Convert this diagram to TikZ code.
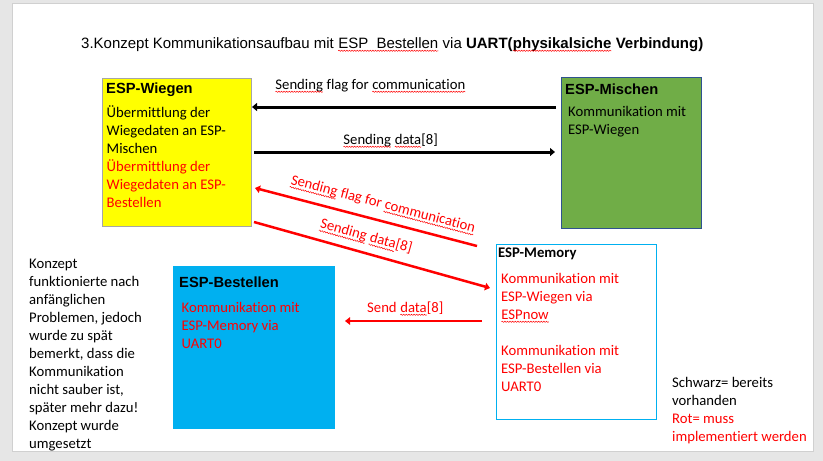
\documentclass[tikz,border=0pt]{standalone}
\usepackage{fontspec}
\setmainfont{Carlito}[Ligatures={NoCommon}]
\newfontfamily\arialf{Liberation Sans}
\usetikzlibrary{arrows.meta,decorations.pathmorphing}
\definecolor{slidegray}{HTML}{E6E6E6}
\definecolor{slideedge}{HTML}{D0D0D0}
\definecolor{wiegenfill}{HTML}{FFFF00}
\definecolor{wiegenedge}{HTML}{A6A6A6}
\definecolor{mischfill}{HTML}{70AD47}
\definecolor{mischedge}{HTML}{2F528F}
\definecolor{espblue}{HTML}{00B0F0}
\definecolor{pptred}{HTML}{FF0000}
\newcommand\sq[1]{\tikz[baseline=(w.base)]{\node[inner sep=0pt, outer sep=0pt] (w) {#1};
  \draw[pptred, line width=0.5pt, decorate, decoration={snake, amplitude=0.6pt, segment length=2.6pt}]
    ([yshift=-2.8pt]w.base west) -- ([yshift=-2.8pt]w.base east);}}
\begin{document}
\begin{tikzpicture}[x=1pt,y=-1pt,
  bx/.style={inner sep=0pt, outer sep=0pt, anchor=north west},
  tx/.style={inner sep=0pt, anchor=base west, font=\fontsize{14.7}{18}\selectfont},
  hd/.style={inner sep=0pt, anchor=base west, font=\arialf\bfseries\fontsize{14.7}{18}\selectfont},
  rtx/.style={inner sep=0pt, text=pptred, font=\fontsize{14.7}{18}\selectfont},
  blk/.style={line width=3pt, -{Triangle[length=5pt,width=8pt]}},
  rdarr/.style={pptred, line width=2.5pt, -{Triangle[length=5pt,width=7.5pt]}}]
\useasboundingbox (0,0) rectangle (823,461);
\fill[slidegray] (0,0) rectangle (823,461);
\filldraw[fill=white, draw=slideedge, line width=1pt] (12.5,3.5) rectangle (813,451);

% title
\node[tx, font=\arialf\fontsize{15}{18}\selectfont] (title) at (81,48)
  {3.Konzept Kommunikationsaufbau mit \sq{ESP\ \ Bestellen} via \textbf{UART(\sq{physikalsiche} Verbindung)}};

% boxes
\node[bx, fill=wiegenfill, draw=wiegenedge, line width=1pt, minimum width=149pt, minimum height=148pt] (wiegen) at (102,78) {};
\node[bx, fill=mischfill, draw=mischedge, line width=1pt, minimum width=140pt, minimum height=151pt] (mischen) at (561,77) {};
\node[bx, fill=white, draw=espblue, line width=1pt, minimum width=160pt, minimum height=175pt] (memory) at (496,244) {};
\node[bx, fill=espblue, minimum width=162pt, minimum height=163pt] (bestellen) at (173,266) {};

% box texts
\node[hd] (wiegenh) at (106,93) {ESP-Wiegen};
\node[tx] (wiegent) at (106.5,117.5) {\parbox[t]{145pt}{\raggedright
  Übermittlung der\\Wiegedaten an ESP-\\Mischen\\
  \textcolor{pptred}{Übermittlung der}\\\textcolor{pptred}{Wiegedaten an ESP-}\\\textcolor{pptred}{Bestellen}}};
\node[hd] (mischenh) at (565,94) {ESP-Mischen};
\node[tx] (mischent) at (568,116) {\parbox[t]{135pt}{\raggedright Kommunikation mit\\ESP-Wiegen}};
\node[tx, font=\bfseries\fontsize{14.7}{18}\selectfont] (memoryh) at (498,257) {ESP-Memory};
\node[tx, text=pptred] (memoryt) at (501,283) {\parbox[t]{150pt}{\raggedright
  Kommunikation mit\\ESP-Wiegen via\\\sq{ESPnow}\\[18pt]Kommunikation mit\\ESP-Bestellen via\\UART0}};
\node[hd] (bestellenh) at (179,287) {ESP-Bestellen};
\node[tx, text=pptred] (bestellent) at (181.5,312) {\parbox[t]{150pt}{\raggedright
  Kommunikation mit\\ESP-Memory via\\UART0}};

% side notes
\node[tx] (note) at (29,268) {\parbox[t]{140pt}{\raggedright
  Konzept\\funktionierte nach\\anfänglichen\\Problemen, jedoch\\wurde zu spät\\bemerkt, dass die\\Kommunikation\\nicht sauber ist,\\später mehr dazu!\\Konzept wurde\\umgesetzt}};
\node[tx] (legend) at (672,387) {\parbox[t]{150pt}{\raggedright
  Schwarz= bereits\\vorhanden\\\textcolor{pptred}{Rot= muss}\\\textcolor{pptred}{implementiert werden}}};

% connectors
\coordinate (a1s) at (556,107);
\coordinate (a1e) at (252,107);
\coordinate (a2s) at (254,152);
\coordinate (a2e) at (555,152);
\coordinate (a3s) at (477,246);
\coordinate (a3e) at (255,188);
\coordinate (a4s) at (254,222);
\coordinate (a4e) at (490,288);
\coordinate (a5s) at (482,321);
\coordinate (a5e) at (345,321);
\draw[blk] (a1s) -- (a1e);
\draw[blk] (a2s) -- (a2e);
\draw[rdarr] (a3s) -- (a3e);
\draw[rdarr] (a4s) -- (a4e);
\draw[rdarr] (a5s) -- (a5e);

% connector labels
\node[tx] (l1) at (275,89) {\sq{Sending} flag for \sq{communication}};
\node[tx] (l2) at (343,144) {\sq{Sending} \sq{data}[8]};
\node[rtx, rotate=-14.7] (l3) at (383,205) {\sq{Sending} flag for \sq{communication}};
\node[rtx, rotate=-15.6] (l4) at (366,237) {\sq{Sending} \sq{data}[8]};
\node[tx, text=pptred] (l5) at (367,312) {Send \sq{data}[8]};
\end{tikzpicture}
\end{document}
